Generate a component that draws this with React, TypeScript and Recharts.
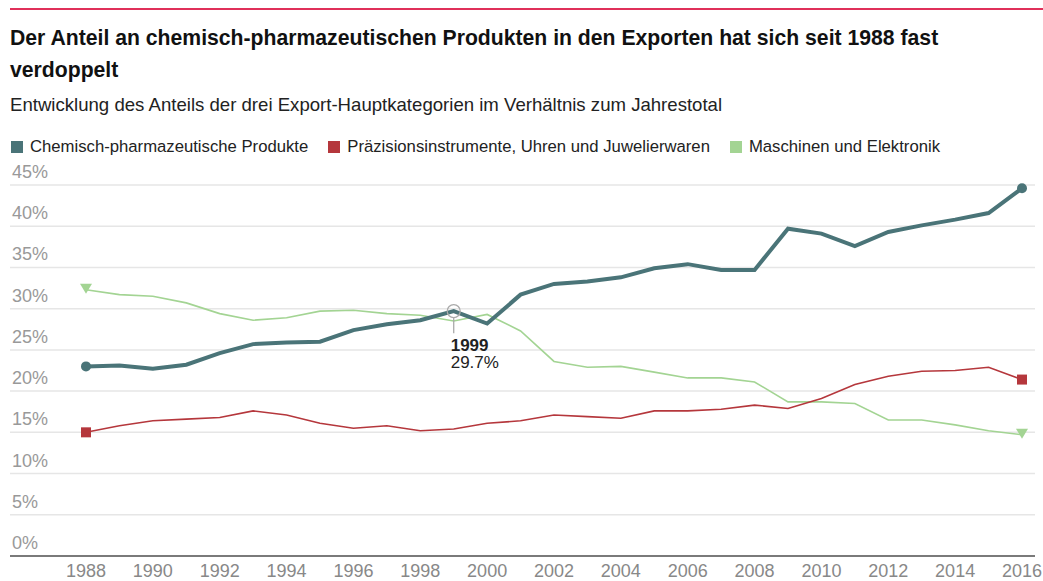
import React from 'react';
import { LineChart, Line, XAxis, YAxis, CartesianGrid } from 'recharts';

// Jahre und Anteile (in %) der drei Export-Hauptkategorien
const years = [
  1988, 1989, 1990, 1991, 1992, 1993, 1994, 1995, 1996, 1997, 1998, 1999, 2000, 2001, 2002,
  2003, 2004, 2005, 2006, 2007, 2008, 2009, 2010, 2011, 2012, 2013, 2014, 2015, 2016,
];
const chemie = [
  23.0, 23.1, 22.7, 23.2, 24.6, 25.7, 25.9, 26.0, 27.4, 28.1, 28.6, 29.7, 28.2, 31.7, 33.0,
  33.3, 33.8, 34.9, 35.4, 34.7, 34.7, 39.7, 39.1, 37.6, 39.3, 40.1, 40.8, 41.6, 44.6,
];
const praezision = [
  15.0, 15.8, 16.4, 16.6, 16.8, 17.6, 17.1, 16.1, 15.5, 15.8, 15.2, 15.4, 16.1, 16.4, 17.1,
  16.9, 16.7, 17.6, 17.6, 17.8, 18.3, 17.9, 19.1, 20.8, 21.8, 22.4, 22.5, 22.9, 21.4,
];
const maschinen = [
  32.3, 31.7, 31.5, 30.7, 29.4, 28.6, 28.9, 29.7, 29.8, 29.4, 29.2, 28.5, 29.3, 27.3, 23.6,
  22.9, 23.0, 22.3, 21.6, 21.6, 21.1, 18.7, 18.7, 18.5, 16.5, 16.5, 15.9, 15.2, 14.7,
];
const xTicks = [1988, 1990, 1992, 1994, 1996, 1998, 2000, 2002, 2004, 2006, 2008, 2010, 2012, 2014, 2016];
const yTicks = [0, 5, 10, 15, 20, 25, 30, 35, 40, 45];

const seriesNames = [
  'Chemisch-pharmazeutische Produkte',
  'Präzisionsinstrumente, Uhren und Juwelierwaren',
  'Maschinen und Elektronik',
];
const colors = ['#4a7478', '#b5373c', '#a3d493'];
const highlightYear = 1999;

const data = years.map((year, i) => ({
  year,
  chemie: chemie[i],
  praezision: praezision[i],
  maschinen: maschinen[i],
}));

const font = '"Liberation Sans", Arial, Helvetica, sans-serif';
const last = years.length - 1;

const YTick = (props: any) => {
  const { x, y, payload } = props;
  return (
    <text x={x + 2} y={y - 7} fill="#999" fontSize={18} fontFamily={font} textAnchor="start">
      {payload.value}%
    </text>
  );
};

const chemieDot = (props: any) => {
  const { cx, cy, index } = props;
  if (index === 0 || index === last) {
    return <circle key={`c${index}`} cx={cx} cy={cy} r={5} fill={colors[0]} />;
  }
  if (years[index] === highlightYear) {
    return (
      <g key={`c${index}`}>
        <circle cx={cx} cy={cy} r={6.5} fill="none" stroke="#aaa" strokeWidth={1.3} />
        <line x1={cx} y1={cy + 6.5} x2={cx} y2={cy + 22} stroke="#aaa" strokeWidth={1.3} />
        <text x={cx - 3} y={cy + 40} fontSize={17} fontWeight="bold" fill="#222" fontFamily={font}>
          {years[index]}
        </text>
        <text x={cx - 3} y={cy + 57} fontSize={17} fill="#222" fontFamily={font}>
          {chemie[index].toFixed(1)}%
        </text>
      </g>
    );
  }
  return <g key={`c${index}`} />;
};

const praezisionDot = (props: any) => {
  const { cx, cy, index } = props;
  if (index === 0 || index === last) {
    return <rect key={`p${index}`} x={cx - 5} y={cy - 5} width={10} height={10} fill={colors[1]} />;
  }
  return <g key={`p${index}`} />;
};

const maschinenDot = (props: any) => {
  const { cx, cy, index } = props;
  if (index === 0 || index === last) {
    return (
      <path
        key={`m${index}`}
        d={`M${cx - 6},${cy - 6} L${cx + 6},${cy - 6} L${cx},${cy + 4} Z`}
        fill={colors[2]}
      />
    );
  }
  return <g key={`m${index}`} />;
};

export default function App() {
  return (
    <div style={{ position: 'absolute', left: 0, top: 0, width: 1043, height: 581, background: '#fff', fontFamily: font, overflow: 'hidden' }}>
      <div style={{ position: 'absolute', left: 10, top: 8, width: 1033, height: 2, background: '#e0305a' }} />
      <div style={{ position: 'absolute', left: 10, top: 22, width: 1030, fontSize: 21.2, fontWeight: 'bold', lineHeight: '32px', color: '#111', whiteSpace: 'nowrap' }}>
        Der Anteil an chemisch-pharmazeutischen Produkten in den Exporten hat sich seit 1988 fast
        <br />
        verdoppelt
      </div>
      <div style={{ position: 'absolute', left: 10, top: 94, fontSize: 18.6, color: '#222', whiteSpace: 'nowrap' }}>
        Entwicklung des Anteils der drei Export-Hauptkategorien im Verhältnis zum Jahrestotal
      </div>
      <div style={{ position: 'absolute', left: 11, top: 137, display: 'flex', alignItems: 'center', fontSize: 16.7, color: '#222', whiteSpace: 'nowrap' }}>
        {seriesNames.map((name, i) => (
          <div key={name} style={{ display: 'flex', alignItems: 'center', marginRight: 20 }}>
            <span style={{ width: 12, height: 12, background: colors[i], display: 'inline-block', marginRight: 7 }} />
            <span>{name}</span>
          </div>
        ))}
      </div>
      <div style={{ position: 'absolute', left: 0, top: 160 }}>
        <LineChart width={1043} height={421} data={data} margin={{ top: 25, right: 8, bottom: 0, left: 10 }}>
          <CartesianGrid vertical={false} stroke="#e6e6e6" strokeWidth={1.5} />
          <XAxis
            dataKey="year"
            type="number"
            domain={[1988, 2016]}
            ticks={xTicks}
            padding={{ left: 76, right: 13 }}
            height={25}
            axisLine={{ stroke: '#555', strokeWidth: 1.5 }}
            tickLine={false}
            tickSize={0}
            tickMargin={8}
            tick={{ fill: '#888', fontSize: 18, fontFamily: font }}
          />
          <YAxis
            type="number"
            domain={[0, 45]}
            ticks={yTicks}
            width={60}
            mirror
            axisLine={false}
            tickLine={false}
            tickSize={0}
            tickMargin={0}
            tick={YTick}
          />
          <Line
            dataKey="maschinen"
            stroke={colors[2]}
            strokeWidth={1.6}
            dot={maschinenDot}
            activeDot={false}
            isAnimationActive={false}
          />
          <Line
            dataKey="praezision"
            stroke={colors[1]}
            strokeWidth={1.6}
            dot={praezisionDot}
            activeDot={false}
            isAnimationActive={false}
          />
          <Line
            dataKey="chemie"
            stroke={colors[0]}
            strokeWidth={4}
            dot={chemieDot}
            activeDot={false}
            isAnimationActive={false}
          />
        </LineChart>
      </div>
    </div>
  );
}
